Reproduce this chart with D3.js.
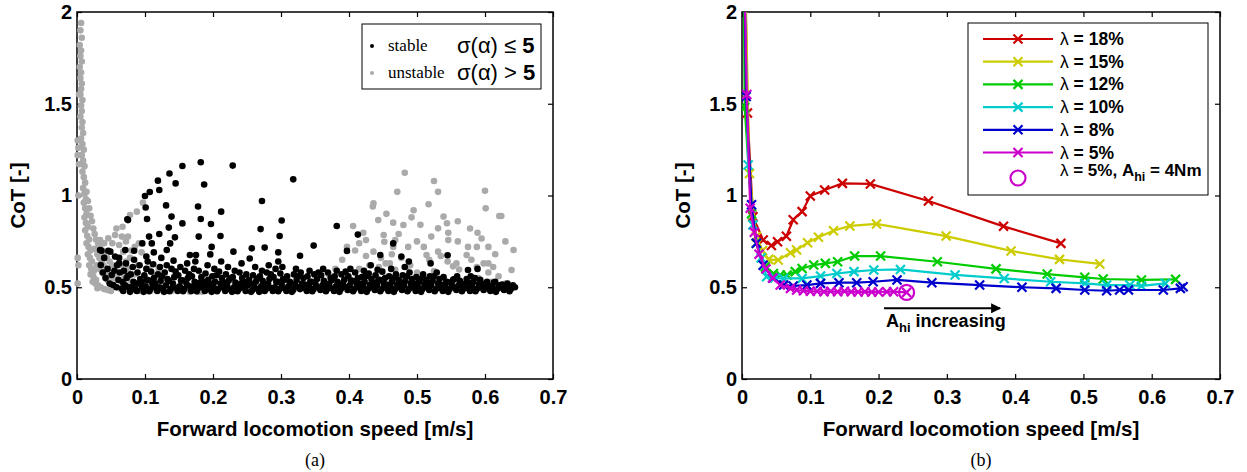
<!DOCTYPE html>
<html>
<head>
<meta charset="utf-8">
<script src="https://cdn.jsdelivr.net/npm/d3@7"></script>
<style>
  body { margin: 0; background: #fff; }
  svg { display: block; }
  .tick text { font-family: "Liberation Sans", Arial, sans-serif; font-weight: bold; font-size: 20px; fill: #000; }
  .tick line { stroke: #000; stroke-width: 1.2; }
  .domain { display: none; }
</style>
</head>
<body>
<div id="chart"></div>
<script>
// x ticks / y ticks shared by both panels
const speedTicks = [0, 0.1, 0.2, 0.3, 0.4, 0.5, 0.6, 0.7];
const speedLabels = ["0", "0.1", "0.2", "0.3", "0.4", "0.5", "0.6", "0.7"];
const cotTicks = [0, 0.5, 1, 1.5, 2];
const cotLabels = ["0", "0.5", "1", "1.5", "2"];

// panel (a): unstable runs, sigma(alpha) > 5  [speed, CoT]
const unstablePoints = [
  [0.006,1.94],[0.005,1.90],[0.007,1.86],[0.004,1.82],[0.006,1.79],[0.005,1.76],[0.007,1.73],[0.004,1.70],
  [0.006,1.67],[0.005,1.64],[0.007,1.61],[0.006,1.58],[0.005,1.55],[0.008,1.52],[0.006,1.49],[0.007,1.46],
  [0.005,1.43],[0.008,1.40],[0.007,1.37],[0.009,1.34],[0.006,1.31],[0.008,1.28],[0.010,1.25],[0.007,1.22],
  [0.009,1.19],[0.011,1.16],[0.008,1.13],[0.010,1.10],[0.012,1.07],[0.009,1.04],[0.011,1.01],[0.013,0.98],
  [0.010,0.96],[0.012,0.93],[0.014,0.90],[0.011,0.88],[0.013,0.85],[0.016,0.83],[0.012,0.81],[0.015,0.78],
  [0.018,0.76],[0.014,0.74],[0.017,0.72],[0.020,0.70],[0.016,0.68],[0.019,0.66],[0.022,0.64],[0.018,0.62],
  [0.021,0.60],[0.025,0.59],[0.020,0.57],[0.024,0.56],[0.028,0.54],[0.023,0.53],[0.027,0.52],[0.031,0.51],
  [0.035,0.50],[0.030,0.495],[0.040,0.49],[0.045,0.485],[0.050,0.48],
  [0.001,1.30],[0.002,1.26],[0.001,1.22],[0.002,1.00],[0.001,0.66],[0.002,0.62],[0.001,0.52],[0.003,1.55],[0.003,1.17],
  [0.014,1.02],[0.016,0.97],[0.018,0.93],[0.020,0.89],[0.022,0.86],[0.024,0.82],[0.026,0.79],[0.028,0.76],
  [0.031,0.74],[0.034,0.72],[0.037,0.70],[0.040,0.68],[0.044,0.66],[0.048,0.64],[0.052,0.62],[0.026,0.71],
  [0.030,0.68],[0.033,0.66],[0.036,0.64],[0.039,0.62],[0.043,0.60],[0.047,0.58],[0.051,0.56],[0.055,0.55],
  [0.060,0.54],[0.029,0.62],[0.033,0.60],[0.037,0.58],[0.041,0.56],[0.045,0.54],[0.049,0.52],[0.054,0.51],
  [0.059,0.50],[0.064,0.49],
  [0.034,0.757],[0.046,0.767],[0.056,0.785],[0.058,0.82],[0.066,0.776],[0.067,0.83],[0.075,0.776],[0.078,0.894],
  [0.088,0.912],[0.097,0.961],[0.085,0.72],[0.068,0.694],[0.040,0.74],[0.052,0.74],[0.062,0.73],[0.072,0.75],
  [0.080,0.70],[0.091,0.74],[0.095,0.69],
  [0.060,0.58],[0.065,0.62],[0.070,0.56],[0.075,0.60],[0.080,0.53],[0.085,0.57],[0.090,0.62],[0.095,0.51],
  [0.100,0.55],[0.105,0.60],[0.110,0.52],[0.115,0.56],[0.068,0.52],[0.078,0.66],[0.088,0.50],[0.058,0.62],
  [0.072,0.64],[0.120,0.60],[0.128,0.52],
  [0.139,0.48],[0.166,0.476],[0.178,0.476],[0.184,0.476],[0.122,0.485],[0.108,0.48],[0.092,0.48],
  [0.482,1.124],[0.471,1.02],[0.525,1.079],[0.531,1.02],[0.600,1.026],[0.601,0.93],[0.436,0.957],[0.435,0.94],
  [0.517,0.952],[0.492,0.881],[0.480,0.839],[0.465,0.852],[0.443,0.866],[0.539,0.885],[0.544,0.849],[0.531,0.821],
  [0.546,0.797],[0.521,0.776],[0.546,0.757],[0.589,0.797],[0.595,0.766],[0.605,0.72],[0.588,0.72],[0.621,0.888],
  [0.406,0.834],[0.421,0.797],[0.425,0.757],[0.397,0.72],[0.409,0.70],[0.451,0.785],[0.452,0.748],[0.465,0.72],
  [0.473,0.79],[0.468,0.757],[0.487,0.72],[0.436,0.694],[0.425,0.67],[0.447,0.66],[0.463,0.68],[0.477,0.66],
  [0.490,0.62],[0.514,0.676],[0.518,0.65],[0.531,0.694],[0.535,0.67],[0.545,0.64],[0.558,0.63],[0.573,0.676],
  [0.580,0.65],[0.588,0.61],[0.598,0.63],[0.605,0.58],[0.612,0.61],[0.620,0.56],[0.562,0.597],[0.553,0.614],
  [0.525,0.588],[0.500,0.58],[0.485,0.61],[0.468,0.595],[0.454,0.63],[0.444,0.61],[0.642,0.703],[0.639,0.594],
  [0.624,0.888],[0.605,0.63],[0.630,0.75],[0.615,0.68],[0.575,0.72],[0.560,0.75],[0.510,0.72],[0.500,0.75],
  [0.460,0.63],[0.430,0.62],[0.415,0.60],[0.390,0.65],[0.380,0.60],[0.370,0.57],[0.505,0.84],[0.495,0.92],
  [0.560,0.86],[0.578,0.82],[0.455,0.90],[0.415,0.74],[0.400,0.55],[0.440,0.56],[0.470,0.55],[0.520,0.55],
  [0.590,0.55],[0.610,0.53],[0.630,0.52]
];

// panel (a): stable runs, sigma(alpha) <= 5  [speed, CoT]
const stablePoints = [
  [0.182,1.181],[0.155,1.161],[0.229,1.163],[0.136,1.12],[0.119,1.081],[0.145,1.066],[0.187,1.06],[0.318,1.088],
  [0.121,1.03],[0.107,1.019],[0.100,0.997],[0.272,0.97],[0.131,0.946],[0.178,0.94],[0.212,0.912],[0.101,0.935],
  [0.139,0.885],[0.074,0.87],[0.103,0.872],[0.182,0.872],[0.301,0.864],[0.155,0.848],[0.197,0.845],[0.270,0.817],
  [0.135,0.825],[0.382,0.834],[0.121,0.79],[0.144,0.772],[0.179,0.776],[0.211,0.779],[0.298,0.779],[0.413,0.787],
  [0.106,0.776],[0.096,0.739],[0.110,0.739],[0.137,0.739],[0.198,0.72],[0.348,0.727],[0.071,0.703],[0.084,0.699],
  [0.132,0.703],[0.230,0.694],[0.257,0.712],[0.276,0.716],[0.296,0.69],[0.397,0.698],[0.465,0.739],[0.545,0.674],
  [0.036,0.699],[0.046,0.699],[0.328,0.672],[0.196,0.679],[0.166,0.676],[0.175,0.676],[0.254,0.657],[0.296,0.64],
  [0.102,0.667],[0.113,0.69],[0.446,0.676],[0.477,0.667],[0.488,0.64],[0.520,0.63],[0.575,0.594],[0.589,0.60],
  [0.034,0.703],[0.049,0.694],[0.035,0.621],[0.056,0.667],[0.062,0.63],[0.051,0.567],[0.053,0.512],[0.068,0.494],
  [0.075,0.866],[0.040,0.66],[0.045,0.60],[0.042,0.55],[0.048,0.52],[0.055,0.59],[0.038,0.58],
  [0.058,0.50],[0.061,0.54],[0.063,0.58],[0.059,0.62],[0.062,0.66],
  [0.068,0.48],[0.071,0.51],[0.073,0.55],[0.069,0.59],[0.072,0.63],
  [0.078,0.475],[0.081,0.50],[0.083,0.53],[0.079,0.57],[0.082,0.61],[0.084,0.65],
  [0.088,0.48],[0.091,0.52],[0.093,0.545],[0.089,0.58],[0.092,0.62],
  [0.098,0.475],[0.101,0.505],[0.103,0.54],[0.099,0.565],[0.102,0.60],[0.104,0.64],
  [0.108,0.49],[0.111,0.52],[0.113,0.55],[0.109,0.585],[0.112,0.625],
  [0.118,0.48],[0.121,0.50],[0.123,0.535],[0.119,0.57],[0.122,0.61],[0.124,0.66],
  [0.128,0.475],[0.131,0.51],[0.133,0.545],[0.129,0.58],[0.132,0.62],
  [0.138,0.49],[0.141,0.52],[0.143,0.555],[0.139,0.60],[0.142,0.645],
  [0.148,0.48],[0.151,0.505],[0.153,0.535],[0.149,0.565],[0.152,0.61],
  [0.158,0.49],[0.161,0.52],[0.163,0.55],[0.159,0.59],[0.162,0.63],
  [0.168,0.48],[0.171,0.50],[0.173,0.53],[0.169,0.56],[0.172,0.60],[0.174,0.64],
  [0.178,0.495],[0.181,0.525],[0.183,0.555],[0.179,0.59],
  [0.188,0.48],[0.191,0.51],[0.193,0.54],[0.189,0.575],[0.192,0.62],
  [0.198,0.475],[0.201,0.50],[0.203,0.53],[0.199,0.56],[0.202,0.60],
  [0.208,0.49],[0.211,0.52],[0.213,0.55],[0.209,0.585],[0.212,0.64],
  [0.218,0.48],[0.221,0.505],[0.223,0.535],[0.219,0.57],[0.222,0.61],
  [0.228,0.475],[0.231,0.50],[0.233,0.525],[0.229,0.555],[0.232,0.59],
  [0.238,0.49],[0.241,0.52],[0.243,0.55],[0.239,0.58],[0.242,0.63],
  [0.248,0.48],[0.251,0.51],[0.253,0.54],[0.249,0.57],
  [0.258,0.485],[0.261,0.50],[0.263,0.53],[0.259,0.565],[0.262,0.61],
  [0.268,0.475],[0.271,0.505],[0.273,0.535],[0.269,0.56],[0.272,0.59],
  [0.278,0.49],[0.281,0.52],[0.283,0.545],[0.279,0.58],[0.282,0.62],
  [0.288,0.48],[0.291,0.50],[0.293,0.53],[0.289,0.555],[0.292,0.60],
  [0.298,0.49],[0.301,0.515],[0.303,0.545],[0.299,0.575],[0.302,0.61],
  [0.308,0.48],[0.311,0.505],[0.313,0.53],[0.309,0.56],
  [0.318,0.485],[0.321,0.51],[0.323,0.54],[0.319,0.57],[0.322,0.60],
  [0.328,0.49],[0.331,0.52],[0.333,0.55],[0.329,0.58],
  [0.338,0.48],[0.341,0.505],[0.343,0.53],[0.339,0.56],[0.342,0.59],
  [0.348,0.49],[0.351,0.515],[0.353,0.545],[0.349,0.57],
  [0.358,0.485],[0.361,0.51],[0.363,0.535],[0.359,0.565],[0.362,0.60],
  [0.368,0.49],[0.371,0.52],[0.373,0.55],[0.369,0.58],
  [0.378,0.48],[0.381,0.505],[0.383,0.53],[0.379,0.56],[0.382,0.59],
  [0.388,0.49],[0.391,0.515],[0.393,0.54],[0.389,0.57],
  [0.398,0.485],[0.401,0.51],[0.403,0.535],[0.399,0.56],[0.402,0.60],
  [0.408,0.49],[0.411,0.52],[0.413,0.55],[0.409,0.58],
  [0.418,0.48],[0.421,0.505],[0.423,0.53],[0.419,0.555],[0.422,0.59],
  [0.428,0.49],[0.431,0.515],[0.433,0.545],[0.429,0.575],[0.432,0.62],
  [0.438,0.485],[0.441,0.51],[0.443,0.535],[0.439,0.565],[0.442,0.595],
  [0.448,0.49],[0.451,0.52],[0.453,0.55],[0.449,0.585],
  [0.458,0.48],[0.461,0.505],[0.463,0.53],[0.459,0.56],[0.462,0.60],
  [0.468,0.49],[0.471,0.515],[0.473,0.54],[0.469,0.57],
  [0.478,0.485],[0.481,0.51],[0.483,0.535],[0.479,0.565],[0.482,0.61],
  [0.488,0.49],[0.491,0.52],[0.493,0.545],[0.489,0.58],
  [0.498,0.48],[0.501,0.505],[0.503,0.53],[0.499,0.555],
  [0.508,0.49],[0.511,0.515],[0.513,0.54],[0.509,0.57],
  [0.518,0.485],[0.521,0.51],[0.523,0.535],[0.519,0.56],
  [0.528,0.49],[0.531,0.52],[0.533,0.545],[0.529,0.58],
  [0.538,0.48],[0.541,0.505],[0.543,0.53],[0.539,0.555],
  [0.548,0.49],[0.551,0.515],[0.553,0.54],
  [0.558,0.485],[0.561,0.51],[0.563,0.535],[0.559,0.56],
  [0.568,0.49],[0.571,0.52],[0.573,0.545],
  [0.578,0.48],[0.581,0.505],[0.583,0.53],[0.579,0.56],
  [0.588,0.49],[0.591,0.515],[0.593,0.54],
  [0.598,0.485],[0.601,0.51],[0.603,0.53],
  [0.608,0.48],[0.611,0.50],[0.613,0.525],
  [0.618,0.49],[0.621,0.51],
  [0.628,0.485],[0.631,0.505],[0.633,0.52],
  [0.638,0.49],[0.641,0.51],[0.644,0.50],
  // in-between runs filling the dense band
  [0.066,0.493],[0.067,0.528],[0.076,0.50],[0.075,0.562],[0.086,0.488],[0.087,0.52],[0.096,0.497],[0.095,0.53],
  [0.106,0.478],[0.105,0.538],[0.116,0.50],[0.115,0.522],[0.126,0.493],[0.125,0.56],[0.136,0.478],[0.135,0.535],
  [0.146,0.497],[0.145,0.585],[0.156,0.478],[0.155,0.538],[0.166,0.505],[0.165,0.57],[0.176,0.478],[0.175,0.512],
  [0.186,0.497],[0.185,0.53],[0.196,0.488],[0.195,0.52],[0.206,0.478],[0.205,0.565],[0.216,0.497],[0.215,0.528],
  [0.226,0.488],[0.225,0.548],[0.236,0.478],[0.235,0.51],[0.246,0.497],[0.245,0.53],[0.256,0.475],[0.255,0.52],
  [0.266,0.49],[0.265,0.548],[0.276,0.48],[0.275,0.51],[0.286,0.495],[0.285,0.57],[0.296,0.478],[0.295,0.53],
  [0.306,0.493],[0.305,0.54],[0.316,0.475],[0.315,0.52],[0.326,0.50],[0.325,0.56],[0.336,0.493],[0.335,0.515],
  [0.346,0.478],[0.345,0.53],[0.356,0.497],[0.355,0.58],[0.366,0.478],[0.365,0.505],[0.376,0.493],[0.375,0.54],
  [0.386,0.475],[0.385,0.52],[0.396,0.50],[0.395,0.585],[0.406,0.478],[0.405,0.535],[0.416,0.497],[0.415,0.52],
  [0.426,0.475],[0.425,0.56],[0.436,0.497],[0.435,0.525],[0.446,0.478],[0.445,0.54],[0.456,0.493],[0.455,0.515],
  [0.466,0.475],[0.465,0.55],[0.476,0.497],[0.475,0.528],[0.486,0.478],[0.485,0.56],[0.496,0.497],[0.495,0.52],
  [0.506,0.475],[0.505,0.545],[0.516,0.497],[0.515,0.525],[0.526,0.478],[0.525,0.56],[0.536,0.493],[0.535,0.515],
  [0.546,0.475],[0.545,0.528],[0.556,0.497],[0.555,0.545],[0.566,0.478],[0.565,0.51],[0.576,0.493],[0.575,0.525],
  [0.586,0.478],[0.585,0.55],[0.596,0.497],[0.595,0.52],[0.606,0.49],[0.605,0.508],[0.616,0.475],[0.615,0.53],
  [0.626,0.495],[0.625,0.515],[0.636,0.478],[0.635,0.508]
];

// panel (b): CoT vs speed for different lambda  [speed, CoT]
const lambda18 = [[0.003,2.6],[0.008,1.45],[0.016,0.885],[0.031,0.757],[0.043,0.728],[0.052,0.748],[0.065,0.778],
  [0.075,0.868],[0.088,0.912],[0.100,0.997],[0.121,1.03],[0.147,1.066],[0.188,1.063],[0.273,0.97],[0.383,0.832],[0.467,0.739]];
const lambda15 = [[0.003,2.5],[0.011,1.12],[0.021,0.776],[0.030,0.70],[0.039,0.652],[0.053,0.648],[0.071,0.688],
  [0.080,0.703],[0.096,0.743],[0.112,0.772],[0.134,0.808],[0.158,0.834],[0.197,0.845],[0.299,0.779],[0.394,0.698],
  [0.465,0.652],[0.524,0.627]];
const lambda12 = [[0.002,2.4],[0.004,1.48],[0.014,0.90],[0.021,0.74],[0.034,0.611],[0.046,0.575],[0.056,0.567],
  [0.066,0.567],[0.078,0.585],[0.088,0.602],[0.105,0.621],[0.122,0.63],[0.140,0.639],[0.165,0.67],[0.203,0.67],
  [0.286,0.639],[0.372,0.60],[0.447,0.572],[0.502,0.554],[0.529,0.545],[0.585,0.54],[0.635,0.543]];
const lambda10 = [[0.003,2.3],[0.009,1.166],[0.016,0.84],[0.028,0.66],[0.036,0.557],[0.048,0.55],[0.061,0.548],
  [0.088,0.548],[0.115,0.561],[0.139,0.575],[0.164,0.585],[0.193,0.594],[0.232,0.597],[0.312,0.567],[0.384,0.548],
  [0.452,0.53],[0.502,0.521],[0.534,0.512],[0.568,0.512],[0.585,0.507],[0.620,0.521]];
const lambda8 = [[0.003,2.3],[0.006,1.54],[0.014,0.95],[0.021,0.74],[0.031,0.62],[0.045,0.55],[0.061,0.512],
  [0.075,0.507],[0.095,0.512],[0.115,0.521],[0.142,0.525],[0.168,0.525],[0.192,0.53],[0.227,0.54],[0.278,0.525],
  [0.348,0.512],[0.410,0.50],[0.460,0.494],[0.502,0.485],[0.534,0.481],[0.553,0.485],[0.566,0.485],[0.617,0.485],
  [0.642,0.494],[0.646,0.503]];
const lambda5 = [[0.003,2.3],[0.007,1.55],[0.012,0.93],[0.018,0.80],[0.025,0.68],[0.035,0.60],[0.045,0.55],
  [0.056,0.512],[0.071,0.494],[0.080,0.485],[0.090,0.481],[0.100,0.478],[0.110,0.478],[0.120,0.476],[0.130,0.478],
  [0.140,0.476],[0.150,0.478],[0.160,0.476],[0.170,0.474],[0.180,0.476],[0.190,0.474],[0.200,0.474],[0.212,0.476],
  [0.222,0.476],[0.241,0.472]];
const highlight = [0.241, 0.472];
const arrowSpan = [[0.208, 0.385], [0.378, 0.385]];

const series = [
  { name: "18%", color: "#cc0000", data: lambda18 },
  { name: "15%", color: "#cccc00", data: lambda15 },
  { name: "12%", color: "#00cc00", data: lambda12 },
  { name: "10%", color: "#00cccc", data: lambda10 },
  { name: "8%",  color: "#0000cc", data: lambda8 },
  { name: "5%",  color: "#cc00cc", data: lambda5 }
];

const width = 1247, height = 472;
const plotTop = 12, plotBottom = 379;
const font = '"Liberation Sans", Arial, sans-serif';

const svg = d3.select("#chart").append("svg")
    .attr("width", width)
    .attr("height", height);

/*
Draw the frame, ticks and labels of one panel.
*/
function drawAxes(left, right, letter) {
    const x = d3.scaleLinear().domain([0, 0.7]).range([left, right]);
    const y = d3.scaleLinear().domain([0, 2]).range([plotBottom, plotTop]);

    svg.append("g")
        .attr("transform", `translate(0,${plotBottom})`)
        .call(d3.axisBottom(x).tickValues(speedTicks).tickSize(-5).tickPadding(11)
            .tickFormat((d, i) => speedLabels[i]));
    svg.append("g")
        .attr("transform", `translate(0,${plotTop})`)
        .call(d3.axisTop(x).tickValues(speedTicks).tickSize(-5).tickFormat(""));
    svg.append("g")
        .attr("transform", `translate(${left},0)`)
        .call(d3.axisLeft(y).tickValues(cotTicks).tickSize(-5).tickPadding(5)
            .tickFormat((d, i) => cotLabels[i]));
    svg.append("g")
        .attr("transform", `translate(${right},0)`)
        .call(d3.axisRight(y).tickValues(cotTicks).tickSize(-5).tickFormat(""));

    svg.append("rect")
        .attr("x", left).attr("y", plotTop)
        .attr("width", right - left).attr("height", plotBottom - plotTop)
        .attr("fill", "none").attr("stroke", "#000").attr("stroke-width", 1.5);

    svg.append("text")
        .attr("x", (left + right) / 2).attr("y", 436)
        .attr("text-anchor", "middle")
        .attr("font-family", font).attr("font-weight", "bold").attr("font-size", 20.5)
        .text("Forward locomotion speed [m/s]");

    svg.append("text")
        .attr("transform", `translate(${left - 52},${(plotTop + plotBottom) / 2}) rotate(-90)`)
        .attr("text-anchor", "middle")
        .attr("font-family", font).attr("font-weight", "bold").attr("font-size", 20.5)
        .text("CoT [-]");

    svg.append("text")
        .attr("x", (left + right) / 2).attr("y", 466)
        .attr("text-anchor", "middle")
        .attr("font-family", '"Liberation Serif", "Times New Roman", serif').attr("font-size", 18)
        .text(letter);

    return { x, y };
}

// ---- panel (a)
const a = drawAxes(77, 553, "(a)");

svg.append("g")
    .selectAll("circle")
    .data(unstablePoints)
    .join("circle")
        .attr("cx", d => a.x(d[0]))
        .attr("cy", d => a.y(d[1]))
        .attr("r", 3.3)
        .attr("fill", "#aaaaaa");

svg.append("g")
    .selectAll("circle")
    .data(stablePoints)
    .join("circle")
        .attr("cx", d => a.x(d[0]))
        .attr("cy", d => a.y(d[1]))
        .attr("r", 3.3)
        .attr("fill", "#000");

// legend (a)
const legA = svg.append("g");
legA.append("rect")
    .attr("x", 362).attr("y", 24).attr("width", 179).attr("height", 65)
    .attr("fill", "#fff").attr("stroke", "#000").attr("stroke-width", 1);
[["stable", "#000", "\u2264", 46], ["unstable", "#aaaaaa", ">", 73]].forEach(([label, col, op, yy]) => {
    legA.append("circle").attr("cx", 372).attr("cy", yy).attr("r", 2).attr("fill", col);
    legA.append("text")
        .attr("x", 388).attr("y", yy + 5)
        .attr("font-family", '"Liberation Serif", "Times New Roman", serif').attr("font-size", 17)
        .text(label);
    const t = legA.append("text")
        .attr("x", 457).attr("y", yy + 7)
        .attr("font-family", font).attr("font-size", 22);
    t.append("tspan").text("\u03c3(\u03b1) " + op + " ");
    t.append("tspan").attr("font-weight", "bold").text("5");
});

// ---- panel (b)
const b = drawAxes(742, 1220, "(b)");

svg.append("clipPath").attr("id", "clipB")
    .append("rect").attr("x", 742).attr("y", plotTop).attr("width", 478).attr("height", plotBottom - plotTop);

const line = d3.line().x(d => b.x(d[0])).y(d => b.y(d[1]));
const xMark = "M-4.5,-4.5L4.5,4.5M-4.5,4.5L4.5,-4.5";

const plotB = svg.append("g").attr("clip-path", "url(#clipB)");
series.forEach(s => {
    plotB.append("path")
        .datum(s.data)
        .attr("d", line)
        .attr("fill", "none")
        .attr("stroke", s.color)
        .attr("stroke-width", 2.2);
    plotB.append("g")
        .selectAll("path")
        .data(s.data)
        .join("path")
            .attr("transform", d => `translate(${b.x(d[0])},${b.y(d[1])})`)
            .attr("d", xMark)
            .attr("stroke", s.color)
            .attr("stroke-width", 2.2);
});
plotB.append("circle")
    .attr("cx", b.x(highlight[0])).attr("cy", b.y(highlight[1]))
    .attr("r", 7.5).attr("fill", "none").attr("stroke", "#cc00cc").attr("stroke-width", 2.2);

// arrow
svg.append("defs").append("marker")
    .attr("id", "arrowHead")
    .attr("viewBox", "0 0 10 10").attr("refX", 9).attr("refY", 5)
    .attr("markerWidth", 6).attr("markerHeight", 5).attr("orient", "auto")
    .append("path").attr("d", "M0,0L10,5L0,10z").attr("fill", "#000");
svg.append("line")
    .attr("x1", b.x(arrowSpan[0][0])).attr("y1", b.y(arrowSpan[0][1]))
    .attr("x2", b.x(arrowSpan[1][0])).attr("y2", b.y(arrowSpan[1][1]))
    .attr("stroke", "#000").attr("stroke-width", 2)
    .attr("marker-end", "url(#arrowHead)");
const arrowText = svg.append("text")
    .attr("x", b.x(arrowSpan[0][0]) + 2).attr("y", 327)
    .attr("font-family", font).attr("font-weight", "bold").attr("font-size", 18);
arrowText.append("tspan").text("A");
arrowText.append("tspan").attr("font-size", 13).attr("dy", 5).text("hi");
arrowText.append("tspan").attr("dy", -5).text(" increasing");

// legend (b)
const legB = svg.append("g");
legB.append("rect")
    .attr("x", 968).attr("y", 23).attr("width", 240).attr("height", 172)
    .attr("fill", "#fff").attr("stroke", "#000").attr("stroke-width", 1);
series.forEach((s, i) => {
    const yy = 39 + i * 22.7;
    legB.append("line")
        .attr("x1", 983).attr("x2", 1053).attr("y1", yy).attr("y2", yy)
        .attr("stroke", s.color).attr("stroke-width", 2.2);
    legB.append("path")
        .attr("transform", `translate(1018,${yy})`)
        .attr("d", xMark).attr("stroke", s.color).attr("stroke-width", 2.2);
    const t = legB.append("text")
        .attr("x", 1060).attr("y", yy + 6)
        .attr("font-family", font).attr("font-size", 17.5);
    t.append("tspan").text("\u03bb");
    t.append("tspan").attr("font-weight", "bold").text(" = " + s.name);
});
legB.append("circle")
    .attr("cx", 1018).attr("cy", 178).attr("r", 7.5)
    .attr("fill", "none").attr("stroke", "#cc00cc").attr("stroke-width", 2.2);
const lastT = legB.append("text")
    .attr("x", 1060).attr("y", 176)
    .attr("font-family", font).attr("font-size", 17);
lastT.append("tspan").text("\u03bb");
lastT.append("tspan").attr("font-weight", "bold").text(" = 5%, A");
lastT.append("tspan").attr("font-weight", "bold").attr("font-size", 12.5).attr("dy", 5).text("hi");
lastT.append("tspan").attr("font-weight", "bold").attr("dy", -5).text(" = 4Nm");
</script>
</body>
</html>
